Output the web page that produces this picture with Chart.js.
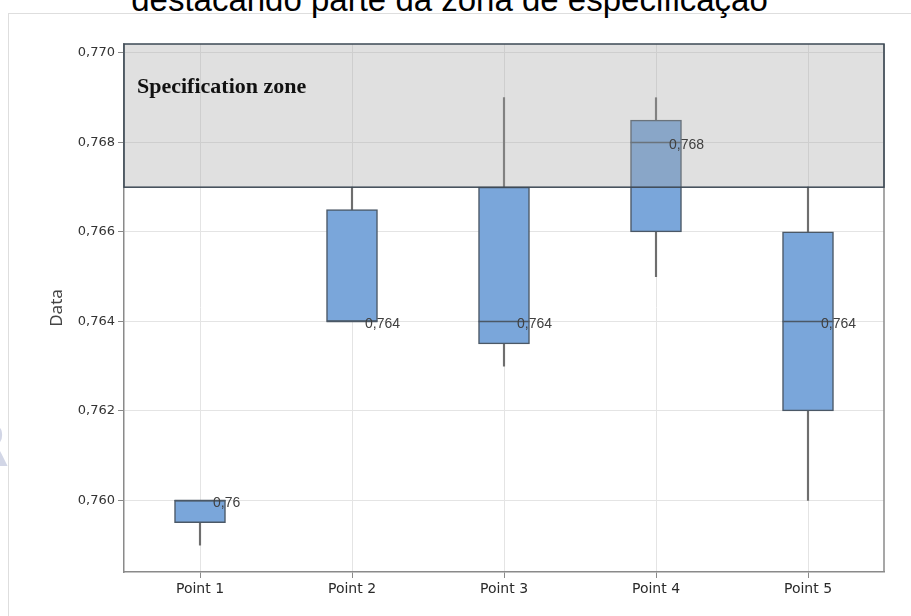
<!DOCTYPE html>
<html>
<head>
<meta charset="utf-8">
<script src="https://cdn.jsdelivr.net/npm/chart.js@4.4.1/dist/chart.umd.min.js"></script>
<style>
  html, body { margin: 0; padding: 0; background: #fff; overflow: hidden; }
  #wrap { position: relative; width: 911px; height: 616px; overflow: hidden; }
  #frame { position: absolute; left: 8px; top: 13px; width: 940px; height: 640px; border: 1px solid #dedede; }
  #title { position: absolute; left: -6px; width: 911px; top: -17px; text-align: center; font: 33px 'Liberation Sans', Arial, sans-serif; line-height: 33px; color: #000; white-space: nowrap; }
  #mark { position: absolute; left: -36px; top: 412px; font: bold 58px 'DejaVu Sans', sans-serif; color: #d2d6e6; }
  canvas { position: absolute; left: 0; top: 0; }
</style>
</head>
<body>
<div id="wrap">
  <div id="frame"></div>
  <div id="title">destacando parte da zona de especificação</div>
  <div id="mark">R</div>
  <canvas id="chart" width="911" height="616"></canvas>
</div>
<script>
'use strict';

const categories = ['Point 1', 'Point 2', 'Point 3', 'Point 4', 'Point 5'];
const whiskerLow = [0.759, 0.764, 0.763, 0.765, 0.760];
const whiskerHigh = [0.760, 0.767, 0.769, 0.769, 0.767];
const q1 = [0.7595, 0.764, 0.7635, 0.766, 0.762];
const q3 = [0.760, 0.7665, 0.767, 0.7685, 0.766];
const medians = [0.760, 0.764, 0.764, 0.768, 0.764];
const yTicks = [0.760, 0.762, 0.764, 0.766, 0.768, 0.770];
const yMin = 0.7584;
const yMax = 0.7702;
const specLower = 0.767;
const specLabel = 'Specification zone';

const boxColor = '#7aa6da';
const edgeColor = '#4b5866';
const axisColor = '#8a8a8a';
const gridColor = '#e4e4e4';

const decimal = v => String(v).replace('.', ',');

// spec zone overlay, right frame edge and median value labels
const boxExtras = {
  id: 'boxExtras',
  afterDatasetsDraw(chart) {
    const { ctx, chartArea, scales: { x, y } } = chart;
    const zoneBottom = y.getPixelForValue(specLower);
    ctx.save();

    ctx.strokeStyle = axisColor;
    ctx.lineWidth = 1.5;
    ctx.beginPath();
    ctx.moveTo(chartArea.right, chartArea.top);
    ctx.lineTo(chartArea.right, chartArea.bottom);
    ctx.stroke();

    ctx.fillStyle = 'rgba(167,167,167,0.35)';
    ctx.fillRect(chartArea.left, chartArea.top, chartArea.right - chartArea.left, zoneBottom - chartArea.top);
    ctx.strokeStyle = '#3d4955';
    ctx.lineWidth = 1.5;
    ctx.strokeRect(chartArea.left, chartArea.top, chartArea.right - chartArea.left, zoneBottom - chartArea.top);

    ctx.fillStyle = '#111';
    ctx.font = 'bold 22px "Liberation Serif", "Times New Roman", serif';
    ctx.textBaseline = 'alphabetic';
    ctx.fillText(specLabel, chartArea.left + 13, chartArea.top + 49);

    ctx.fillStyle = '#404040';
    ctx.font = '14px "Liberation Sans", Arial, sans-serif';
    ctx.textBaseline = 'middle';
    medians.forEach((m, i) => {
      ctx.fillText(decimal(m), x.getPixelForValue(i) + 13, y.getPixelForValue(m) + 3);
    });
    ctx.restore();
  }
};

const data = {
  labels: categories,
  datasets: [
    {
      type: 'line',
      label: 'Median',
      data: medians,
      showLine: false,
      pointStyle: 'line',
      pointRadius: 25.5,
      pointHoverRadius: 25.5,
      borderColor: edgeColor,
      borderWidth: 1.5,
      order: 1,
    },
    {
      label: 'Box',
      data: categories.map((_, i) => [q1[i], q3[i]]),
      backgroundColor: boxColor,
      borderColor: edgeColor,
      borderWidth: 1.5,
      borderSkipped: false,
      barThickness: 51,
      grouped: false,
      order: 2,
    },
    {
      label: 'Whisker',
      data: categories.map((_, i) => [whiskerLow[i], whiskerHigh[i]]),
      backgroundColor: '#6e6e6e',
      borderWidth: 0,
      barThickness: 1.5,
      grouped: false,
      order: 3,
    },
  ],
};

const options = {
  responsive: false,
  animation: false,
  layout: { padding: { top: 44, right: 27, bottom: 0, left: 0 } },
  scales: {
    x: {
      offset: true,
      afterFit: scale => { scale.height = 44; },
      grid: { offset: false, color: gridColor, tickColor: axisColor, tickLength: 6 },
      border: { color: axisColor, width: 1.5 },
      ticks: { color: '#2a2a2a', padding: 3, font: { family: 'DejaVu Sans', size: 14 } },
    },
    y: {
      min: yMin,
      max: yMax,
      afterFit: scale => { scale.width = 124; },
      afterBuildTicks: scale => { scale.ticks = yTicks.map(v => ({ value: v })); },
      grid: { color: gridColor, tickColor: axisColor, tickLength: 6 },
      border: { color: axisColor, width: 1.5 },
      ticks: {
        color: '#333',
        padding: 3,
        font: { family: 'DejaVu Sans', size: 13 },
        callback: v => v.toFixed(3).replace('.', ','),
      },
      title: {
        display: true,
        text: 'Data',
        color: '#444',
        padding: { top: 47, bottom: 0 },
        font: { family: 'Noto Sans', size: 17 },
      },
    },
  },
  plugins: {
    legend: { display: false },
    tooltip: { enabled: false },
  },
};

new Chart(document.getElementById('chart'), {
  type: 'bar',
  data,
  options,
  plugins: [boxExtras],
});
</script>
</body>
</html>
